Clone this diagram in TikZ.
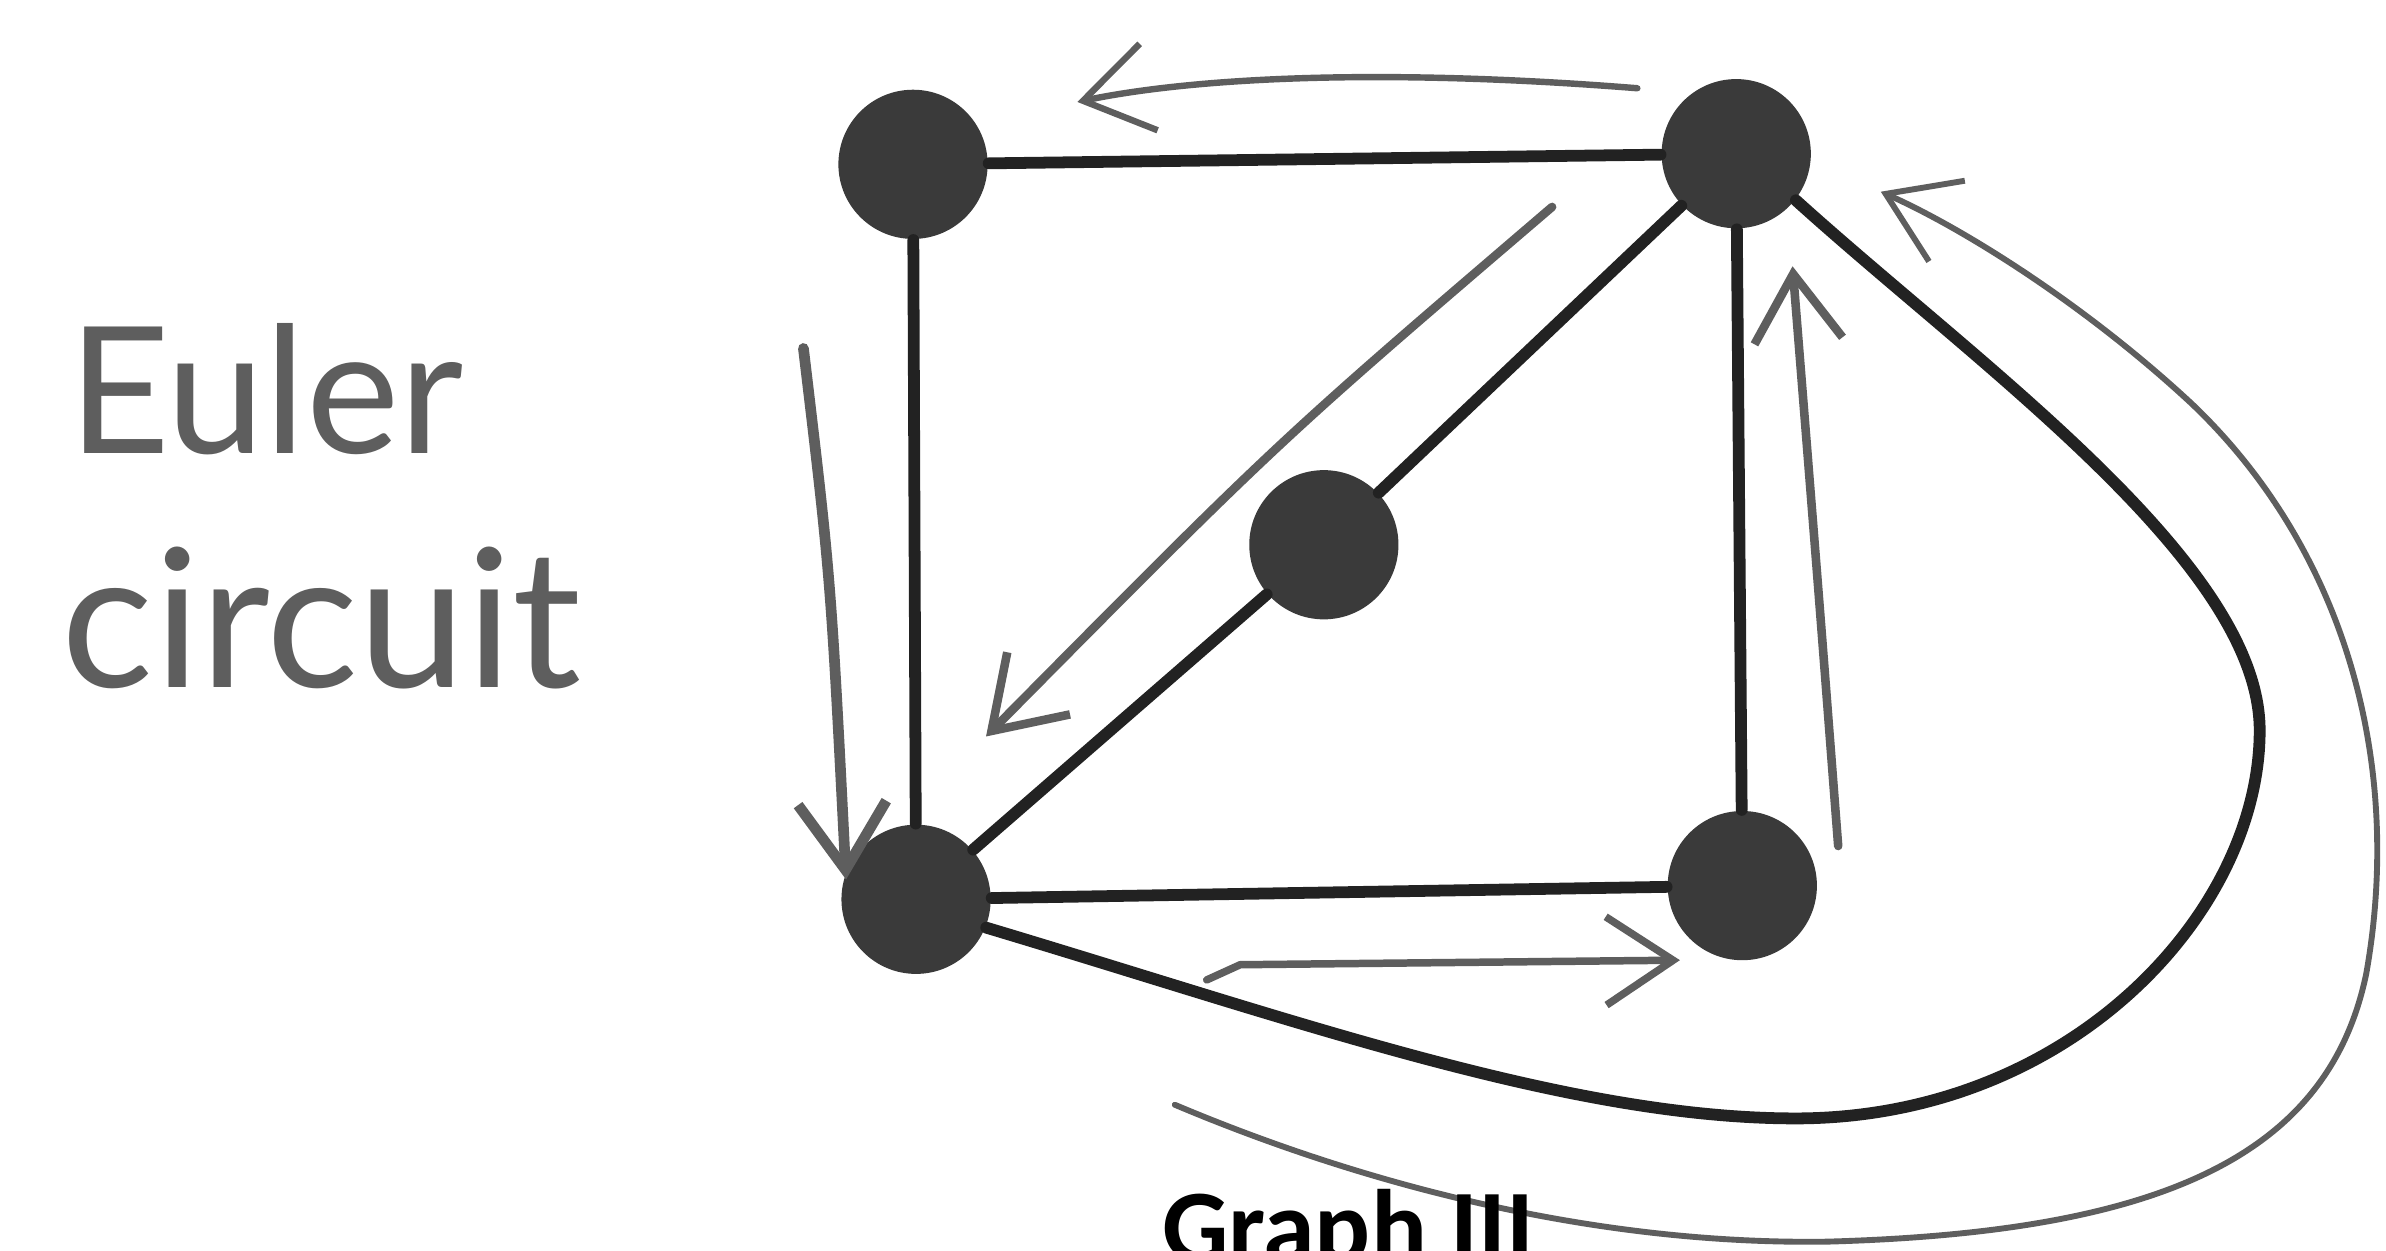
\documentclass[tikz,border=0pt]{standalone}
\usepackage{fontspec}
\setmainfont{Carlito}
\newfontfamily\handfont{Lato}
\usetikzlibrary{arrows.meta}
\definecolor{nodegray}{HTML}{3A3A3A}
\definecolor{edgeblack}{HTML}{222222}
\definecolor{pencil}{HTML}{5E5E5E}
\begin{document}
\begin{tikzpicture}[x=0.01cm,y=-0.01cm,
  vertex/.style={circle,fill=nodegray,draw=none,minimum size=0.98cm,inner sep=0pt},
  edge/.style={draw=edgeblack,line width=2.2pt,line cap=round},
  pencilarrow/.style={draw=pencil,line width=#1,line cap=round,line join=round,
    -{Straight Barb[length=4.4mm,width=5.8mm,line width=#1]}},
  pencilarrow/.default=1.1pt,
  label/.style={inner sep=0pt,anchor=base west}
]
\useasboundingbox (0,0) rectangle (1568,822);
\fill[white] (0,0) rectangle (1568,822);

% vertices
\node[vertex] (tl) at (600,108) {};
\node[vertex] (tr) at (1141,101) {};
\node[vertex] (c)  at (870,358) {};
\node[vertex] (bl) at (602,591) {};
\node[vertex] (br) at (1145,582) {};

% edges
\draw[edge] (tl) -- (tr);
\draw[edge] (tl) -- (bl);
\draw[edge] (tr) -- (c);
\draw[edge] (c) -- (bl);
\draw[edge] (tr) -- (br);
\draw[edge] (bl) -- (br);
\draw[edge] (bl.-22) .. controls (850,670) and (1030,735) .. (1180,735)
  .. controls (1360,735) and (1485,600) .. (1485,480)
  .. controls (1485,370) and (1300,240) .. (tr.-38);

% pencil arrows (route of the circuit)
\coordinate (a1s) at (1076,58);
\coordinate (a1e) at (708,67);
\draw[pencilarrow=1.2pt] (a1s) .. controls (900,44) and (780,52) .. (a1e);

\coordinate (a2s) at (528,229);
\coordinate (a2e) at (556,578);
\draw[pencilarrow=2pt] (a2s) .. controls (546,380) .. (a2e);

\coordinate (a3s) at (1020,136);
\coordinate (a3e) at (648,484);
\draw[pencilarrow=1.6pt] (a3s) .. controls (840,290) .. (a3e);

\coordinate (a4s) at (793,644);
\coordinate (a4e) at (1104,631);
\draw[pencilarrow=1.4pt] (a4s) -- (815,634) -- (a4e);

\coordinate (a5s) at (1208,556);
\coordinate (a5e) at (1178,175);
\draw[pencilarrow=1.6pt] (a5s) .. controls (1196,400) .. (a5e);

\coordinate (a6s) at (772,726);
\coordinate (a6e) at (1236,126);
\draw[pencilarrow=1.1pt] (a6s) .. controls (900,780) and (1050,818) .. (1200,816)
  .. controls (1420,810) and (1530,760) .. (1555,640)
  .. controls (1580,500) and (1540,360) .. (1440,265)
  .. controls (1370,200) and (1290,150) .. (a6e);

% texts
\node[label,text=pencil] (t1) at (44,298) {\handfont\fontsize{33}{33}\selectfont Euler};
\node[label,text=pencil] (t2) at (40,452) {\handfont\fontsize{36}{36}\selectfont circuit};
\node[label,text=black] (cap) at (763,830) {\fontsize{19.5}{19.5}\selectfont\bfseries Graph III};
\end{tikzpicture}
\end{document}
